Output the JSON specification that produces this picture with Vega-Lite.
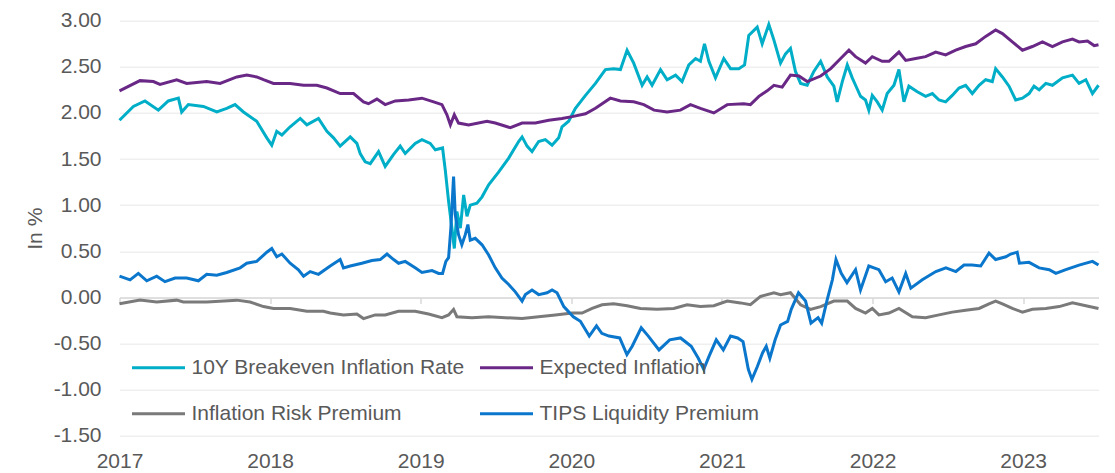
{
 "$schema": "https://vega.github.io/schema/vega-lite/v6.json",
 "width": 979, "height": 415,
 "autosize": {"type": "none"},
 "padding": {"left": 119.5, "top": 20.7, "right": 16.5, "bottom": 37.3},
 "background": "white",
 "config": {"font": "Liberation Sans", "view": {"stroke": null}},
 "data": {"values": [
  {"s":"10Y Breakeven Inflation Rate","year":2017.000,"v":1.92},{"s":"10Y Breakeven Inflation Rate","year":2017.092,"v":2.07},{"s":"10Y Breakeven Inflation Rate","year":2017.169,"v":2.13},{"s":"10Y Breakeven Inflation Rate","year":2017.258,"v":2.03},{"s":"10Y Breakeven Inflation Rate","year":2017.324,"v":2.13},{"s":"10Y Breakeven Inflation Rate","year":2017.391,"v":2.16},{"s":"10Y Breakeven Inflation Rate","year":2017.413,"v":2.01},{"s":"10Y Breakeven Inflation Rate","year":2017.457,"v":2.09},{"s":"10Y Breakeven Inflation Rate","year":2017.557,"v":2.07},{"s":"10Y Breakeven Inflation Rate","year":2017.646,"v":2.01},{"s":"10Y Breakeven Inflation Rate","year":2017.712,"v":2.05},{"s":"10Y Breakeven Inflation Rate","year":2017.767,"v":2.09},{"s":"10Y Breakeven Inflation Rate","year":2017.823,"v":2.01},{"s":"10Y Breakeven Inflation Rate","year":2017.911,"v":1.91},{"s":"10Y Breakeven Inflation Rate","year":2017.978,"v":1.73},{"s":"10Y Breakeven Inflation Rate","year":2018.011,"v":1.65},{"s":"10Y Breakeven Inflation Rate","year":2018.044,"v":1.80},{"s":"10Y Breakeven Inflation Rate","year":2018.078,"v":1.76},{"s":"10Y Breakeven Inflation Rate","year":2018.133,"v":1.85},{"s":"10Y Breakeven Inflation Rate","year":2018.200,"v":1.94},{"s":"10Y Breakeven Inflation Rate","year":2018.244,"v":1.87},{"s":"10Y Breakeven Inflation Rate","year":2018.321,"v":1.94},{"s":"10Y Breakeven Inflation Rate","year":2018.377,"v":1.80},{"s":"10Y Breakeven Inflation Rate","year":2018.421,"v":1.73},{"s":"10Y Breakeven Inflation Rate","year":2018.465,"v":1.64},{"s":"10Y Breakeven Inflation Rate","year":2018.532,"v":1.74},{"s":"10Y Breakeven Inflation Rate","year":2018.576,"v":1.67},{"s":"10Y Breakeven Inflation Rate","year":2018.598,"v":1.56},{"s":"10Y Breakeven Inflation Rate","year":2018.631,"v":1.47},{"s":"10Y Breakeven Inflation Rate","year":2018.665,"v":1.45},{"s":"10Y Breakeven Inflation Rate","year":2018.720,"v":1.58},{"s":"10Y Breakeven Inflation Rate","year":2018.764,"v":1.42},{"s":"10Y Breakeven Inflation Rate","year":2018.820,"v":1.55},{"s":"10Y Breakeven Inflation Rate","year":2018.864,"v":1.64},{"s":"10Y Breakeven Inflation Rate","year":2018.897,"v":1.56},{"s":"10Y Breakeven Inflation Rate","year":2018.963,"v":1.67},{"s":"10Y Breakeven Inflation Rate","year":2019.008,"v":1.71},{"s":"10Y Breakeven Inflation Rate","year":2019.063,"v":1.67},{"s":"10Y Breakeven Inflation Rate","year":2019.097,"v":1.60},{"s":"10Y Breakeven Inflation Rate","year":2019.145,"v":1.62},{"s":"10Y Breakeven Inflation Rate","year":2019.163,"v":1.38},{"s":"10Y Breakeven Inflation Rate","year":2019.185,"v":1.04},{"s":"10Y Breakeven Inflation Rate","year":2019.207,"v":0.75},{"s":"10Y Breakeven Inflation Rate","year":2019.223,"v":0.53},{"s":"10Y Breakeven Inflation Rate","year":2019.240,"v":0.93},{"s":"10Y Breakeven Inflation Rate","year":2019.263,"v":0.75},{"s":"10Y Breakeven Inflation Rate","year":2019.285,"v":1.11},{"s":"10Y Breakeven Inflation Rate","year":2019.307,"v":0.88},{"s":"10Y Breakeven Inflation Rate","year":2019.329,"v":1.00},{"s":"10Y Breakeven Inflation Rate","year":2019.373,"v":1.02},{"s":"10Y Breakeven Inflation Rate","year":2019.407,"v":1.09},{"s":"10Y Breakeven Inflation Rate","year":2019.451,"v":1.22},{"s":"10Y Breakeven Inflation Rate","year":2019.518,"v":1.36},{"s":"10Y Breakeven Inflation Rate","year":2019.584,"v":1.51},{"s":"10Y Breakeven Inflation Rate","year":2019.650,"v":1.69},{"s":"10Y Breakeven Inflation Rate","year":2019.673,"v":1.74},{"s":"10Y Breakeven Inflation Rate","year":2019.706,"v":1.64},{"s":"10Y Breakeven Inflation Rate","year":2019.739,"v":1.58},{"s":"10Y Breakeven Inflation Rate","year":2019.783,"v":1.69},{"s":"10Y Breakeven Inflation Rate","year":2019.827,"v":1.71},{"s":"10Y Breakeven Inflation Rate","year":2019.872,"v":1.65},{"s":"10Y Breakeven Inflation Rate","year":2019.916,"v":1.73},{"s":"10Y Breakeven Inflation Rate","year":2019.938,"v":1.85},{"s":"10Y Breakeven Inflation Rate","year":2019.982,"v":1.91},{"s":"10Y Breakeven Inflation Rate","year":2020.027,"v":2.05},{"s":"10Y Breakeven Inflation Rate","year":2020.094,"v":2.19},{"s":"10Y Breakeven Inflation Rate","year":2020.160,"v":2.32},{"s":"10Y Breakeven Inflation Rate","year":2020.226,"v":2.47},{"s":"10Y Breakeven Inflation Rate","year":2020.281,"v":2.48},{"s":"10Y Breakeven Inflation Rate","year":2020.326,"v":2.47},{"s":"10Y Breakeven Inflation Rate","year":2020.370,"v":2.68},{"s":"10Y Breakeven Inflation Rate","year":2020.414,"v":2.54},{"s":"10Y Breakeven Inflation Rate","year":2020.470,"v":2.30},{"s":"10Y Breakeven Inflation Rate","year":2020.503,"v":2.39},{"s":"10Y Breakeven Inflation Rate","year":2020.536,"v":2.30},{"s":"10Y Breakeven Inflation Rate","year":2020.592,"v":2.47},{"s":"10Y Breakeven Inflation Rate","year":2020.636,"v":2.36},{"s":"10Y Breakeven Inflation Rate","year":2020.692,"v":2.41},{"s":"10Y Breakeven Inflation Rate","year":2020.735,"v":2.34},{"s":"10Y Breakeven Inflation Rate","year":2020.780,"v":2.52},{"s":"10Y Breakeven Inflation Rate","year":2020.825,"v":2.59},{"s":"10Y Breakeven Inflation Rate","year":2020.857,"v":2.56},{"s":"10Y Breakeven Inflation Rate","year":2020.884,"v":2.75},{"s":"10Y Breakeven Inflation Rate","year":2020.913,"v":2.56},{"s":"10Y Breakeven Inflation Rate","year":2020.957,"v":2.38},{"s":"10Y Breakeven Inflation Rate","year":2021.012,"v":2.59},{"s":"10Y Breakeven Inflation Rate","year":2021.057,"v":2.48},{"s":"10Y Breakeven Inflation Rate","year":2021.112,"v":2.48},{"s":"10Y Breakeven Inflation Rate","year":2021.150,"v":2.52},{"s":"10Y Breakeven Inflation Rate","year":2021.178,"v":2.84},{"s":"10Y Breakeven Inflation Rate","year":2021.234,"v":2.93},{"s":"10Y Breakeven Inflation Rate","year":2021.267,"v":2.75},{"s":"10Y Breakeven Inflation Rate","year":2021.311,"v":2.96},{"s":"10Y Breakeven Inflation Rate","year":2021.345,"v":2.79},{"s":"10Y Breakeven Inflation Rate","year":2021.389,"v":2.54},{"s":"10Y Breakeven Inflation Rate","year":2021.422,"v":2.64},{"s":"10Y Breakeven Inflation Rate","year":2021.455,"v":2.70},{"s":"10Y Breakeven Inflation Rate","year":2021.488,"v":2.45},{"s":"10Y Breakeven Inflation Rate","year":2021.522,"v":2.32},{"s":"10Y Breakeven Inflation Rate","year":2021.566,"v":2.30},{"s":"10Y Breakeven Inflation Rate","year":2021.610,"v":2.45},{"s":"10Y Breakeven Inflation Rate","year":2021.655,"v":2.56},{"s":"10Y Breakeven Inflation Rate","year":2021.699,"v":2.39},{"s":"10Y Breakeven Inflation Rate","year":2021.743,"v":2.29},{"s":"10Y Breakeven Inflation Rate","year":2021.765,"v":2.12},{"s":"10Y Breakeven Inflation Rate","year":2021.799,"v":2.34},{"s":"10Y Breakeven Inflation Rate","year":2021.832,"v":2.52},{"s":"10Y Breakeven Inflation Rate","year":2021.865,"v":2.38},{"s":"10Y Breakeven Inflation Rate","year":2021.887,"v":2.30},{"s":"10Y Breakeven Inflation Rate","year":2021.920,"v":2.18},{"s":"10Y Breakeven Inflation Rate","year":2021.953,"v":2.14},{"s":"10Y Breakeven Inflation Rate","year":2021.975,"v":2.03},{"s":"10Y Breakeven Inflation Rate","year":2021.998,"v":2.19},{"s":"10Y Breakeven Inflation Rate","year":2022.031,"v":2.12},{"s":"10Y Breakeven Inflation Rate","year":2022.064,"v":2.03},{"s":"10Y Breakeven Inflation Rate","year":2022.097,"v":2.21},{"s":"10Y Breakeven Inflation Rate","year":2022.142,"v":2.30},{"s":"10Y Breakeven Inflation Rate","year":2022.175,"v":2.47},{"s":"10Y Breakeven Inflation Rate","year":2022.208,"v":2.12},{"s":"10Y Breakeven Inflation Rate","year":2022.241,"v":2.29},{"s":"10Y Breakeven Inflation Rate","year":2022.297,"v":2.23},{"s":"10Y Breakeven Inflation Rate","year":2022.352,"v":2.18},{"s":"10Y Breakeven Inflation Rate","year":2022.397,"v":2.21},{"s":"10Y Breakeven Inflation Rate","year":2022.441,"v":2.14},{"s":"10Y Breakeven Inflation Rate","year":2022.485,"v":2.12},{"s":"10Y Breakeven Inflation Rate","year":2022.529,"v":2.19},{"s":"10Y Breakeven Inflation Rate","year":2022.574,"v":2.27},{"s":"10Y Breakeven Inflation Rate","year":2022.618,"v":2.30},{"s":"10Y Breakeven Inflation Rate","year":2022.662,"v":2.21},{"s":"10Y Breakeven Inflation Rate","year":2022.707,"v":2.30},{"s":"10Y Breakeven Inflation Rate","year":2022.751,"v":2.36},{"s":"10Y Breakeven Inflation Rate","year":2022.795,"v":2.34},{"s":"10Y Breakeven Inflation Rate","year":2022.817,"v":2.48},{"s":"10Y Breakeven Inflation Rate","year":2022.862,"v":2.39},{"s":"10Y Breakeven Inflation Rate","year":2022.906,"v":2.29},{"s":"10Y Breakeven Inflation Rate","year":2022.950,"v":2.14},{"s":"10Y Breakeven Inflation Rate","year":2022.995,"v":2.16},{"s":"10Y Breakeven Inflation Rate","year":2023.039,"v":2.21},{"s":"10Y Breakeven Inflation Rate","year":2023.072,"v":2.29},{"s":"10Y Breakeven Inflation Rate","year":2023.106,"v":2.25},{"s":"10Y Breakeven Inflation Rate","year":2023.150,"v":2.32},{"s":"10Y Breakeven Inflation Rate","year":2023.194,"v":2.30},{"s":"10Y Breakeven Inflation Rate","year":2023.261,"v":2.38},{"s":"10Y Breakeven Inflation Rate","year":2023.327,"v":2.41},{"s":"10Y Breakeven Inflation Rate","year":2023.371,"v":2.32},{"s":"10Y Breakeven Inflation Rate","year":2023.416,"v":2.36},{"s":"10Y Breakeven Inflation Rate","year":2023.460,"v":2.21},{"s":"10Y Breakeven Inflation Rate","year":2023.500,"v":2.30},
  {"s":"Expected Inflation","year":2017.000,"v":2.24},{"s":"Expected Inflation","year":2017.136,"v":2.35},{"s":"Expected Inflation","year":2017.225,"v":2.34},{"s":"Expected Inflation","year":2017.269,"v":2.31},{"s":"Expected Inflation","year":2017.380,"v":2.36},{"s":"Expected Inflation","year":2017.446,"v":2.32},{"s":"Expected Inflation","year":2017.579,"v":2.34},{"s":"Expected Inflation","year":2017.668,"v":2.32},{"s":"Expected Inflation","year":2017.779,"v":2.39},{"s":"Expected Inflation","year":2017.845,"v":2.41},{"s":"Expected Inflation","year":2017.911,"v":2.39},{"s":"Expected Inflation","year":2017.956,"v":2.36},{"s":"Expected Inflation","year":2018.022,"v":2.32},{"s":"Expected Inflation","year":2018.133,"v":2.32},{"s":"Expected Inflation","year":2018.222,"v":2.30},{"s":"Expected Inflation","year":2018.310,"v":2.30},{"s":"Expected Inflation","year":2018.377,"v":2.27},{"s":"Expected Inflation","year":2018.465,"v":2.21},{"s":"Expected Inflation","year":2018.554,"v":2.21},{"s":"Expected Inflation","year":2018.620,"v":2.12},{"s":"Expected Inflation","year":2018.653,"v":2.10},{"s":"Expected Inflation","year":2018.709,"v":2.15},{"s":"Expected Inflation","year":2018.764,"v":2.09},{"s":"Expected Inflation","year":2018.831,"v":2.13},{"s":"Expected Inflation","year":2018.920,"v":2.14},{"s":"Expected Inflation","year":2019.008,"v":2.16},{"s":"Expected Inflation","year":2019.086,"v":2.12},{"s":"Expected Inflation","year":2019.141,"v":2.09},{"s":"Expected Inflation","year":2019.174,"v":1.98},{"s":"Expected Inflation","year":2019.197,"v":1.87},{"s":"Expected Inflation","year":2019.223,"v":1.98},{"s":"Expected Inflation","year":2019.251,"v":1.89},{"s":"Expected Inflation","year":2019.318,"v":1.87},{"s":"Expected Inflation","year":2019.440,"v":1.91},{"s":"Expected Inflation","year":2019.495,"v":1.89},{"s":"Expected Inflation","year":2019.595,"v":1.84},{"s":"Expected Inflation","year":2019.673,"v":1.89},{"s":"Expected Inflation","year":2019.761,"v":1.89},{"s":"Expected Inflation","year":2019.850,"v":1.92},{"s":"Expected Inflation","year":2019.938,"v":1.94},{"s":"Expected Inflation","year":2020.005,"v":1.96},{"s":"Expected Inflation","year":2020.094,"v":1.99},{"s":"Expected Inflation","year":2020.160,"v":2.05},{"s":"Expected Inflation","year":2020.259,"v":2.16},{"s":"Expected Inflation","year":2020.326,"v":2.13},{"s":"Expected Inflation","year":2020.414,"v":2.12},{"s":"Expected Inflation","year":2020.481,"v":2.09},{"s":"Expected Inflation","year":2020.549,"v":2.03},{"s":"Expected Inflation","year":2020.636,"v":2.01},{"s":"Expected Inflation","year":2020.724,"v":2.03},{"s":"Expected Inflation","year":2020.791,"v":2.09},{"s":"Expected Inflation","year":2020.857,"v":2.05},{"s":"Expected Inflation","year":2020.946,"v":2.00},{"s":"Expected Inflation","year":2021.035,"v":2.09},{"s":"Expected Inflation","year":2021.145,"v":2.10},{"s":"Expected Inflation","year":2021.189,"v":2.09},{"s":"Expected Inflation","year":2021.245,"v":2.18},{"s":"Expected Inflation","year":2021.300,"v":2.24},{"s":"Expected Inflation","year":2021.345,"v":2.30},{"s":"Expected Inflation","year":2021.400,"v":2.28},{"s":"Expected Inflation","year":2021.455,"v":2.41},{"s":"Expected Inflation","year":2021.511,"v":2.40},{"s":"Expected Inflation","year":2021.566,"v":2.34},{"s":"Expected Inflation","year":2021.655,"v":2.40},{"s":"Expected Inflation","year":2021.722,"v":2.48},{"s":"Expected Inflation","year":2021.788,"v":2.59},{"s":"Expected Inflation","year":2021.843,"v":2.68},{"s":"Expected Inflation","year":2021.887,"v":2.61},{"s":"Expected Inflation","year":2021.953,"v":2.54},{"s":"Expected Inflation","year":2021.998,"v":2.61},{"s":"Expected Inflation","year":2022.064,"v":2.56},{"s":"Expected Inflation","year":2022.109,"v":2.56},{"s":"Expected Inflation","year":2022.175,"v":2.66},{"s":"Expected Inflation","year":2022.220,"v":2.57},{"s":"Expected Inflation","year":2022.286,"v":2.59},{"s":"Expected Inflation","year":2022.352,"v":2.61},{"s":"Expected Inflation","year":2022.419,"v":2.66},{"s":"Expected Inflation","year":2022.485,"v":2.63},{"s":"Expected Inflation","year":2022.552,"v":2.68},{"s":"Expected Inflation","year":2022.618,"v":2.72},{"s":"Expected Inflation","year":2022.685,"v":2.75},{"s":"Expected Inflation","year":2022.751,"v":2.83},{"s":"Expected Inflation","year":2022.817,"v":2.90},{"s":"Expected Inflation","year":2022.862,"v":2.86},{"s":"Expected Inflation","year":2022.928,"v":2.77},{"s":"Expected Inflation","year":2022.995,"v":2.68},{"s":"Expected Inflation","year":2023.061,"v":2.72},{"s":"Expected Inflation","year":2023.128,"v":2.77},{"s":"Expected Inflation","year":2023.194,"v":2.72},{"s":"Expected Inflation","year":2023.261,"v":2.77},{"s":"Expected Inflation","year":2023.327,"v":2.80},{"s":"Expected Inflation","year":2023.371,"v":2.77},{"s":"Expected Inflation","year":2023.427,"v":2.78},{"s":"Expected Inflation","year":2023.471,"v":2.73},{"s":"Expected Inflation","year":2023.500,"v":2.74},
  {"s":"Inflation Risk Premium","year":2017.000,"v":-0.07},{"s":"Inflation Risk Premium","year":2017.136,"v":-0.03},{"s":"Inflation Risk Premium","year":2017.247,"v":-0.05},{"s":"Inflation Risk Premium","year":2017.380,"v":-0.03},{"s":"Inflation Risk Premium","year":2017.424,"v":-0.05},{"s":"Inflation Risk Premium","year":2017.579,"v":-0.05},{"s":"Inflation Risk Premium","year":2017.779,"v":-0.03},{"s":"Inflation Risk Premium","year":2017.867,"v":-0.05},{"s":"Inflation Risk Premium","year":2017.956,"v":-0.10},{"s":"Inflation Risk Premium","year":2018.022,"v":-0.12},{"s":"Inflation Risk Premium","year":2018.133,"v":-0.12},{"s":"Inflation Risk Premium","year":2018.244,"v":-0.15},{"s":"Inflation Risk Premium","year":2018.354,"v":-0.15},{"s":"Inflation Risk Premium","year":2018.399,"v":-0.17},{"s":"Inflation Risk Premium","year":2018.487,"v":-0.19},{"s":"Inflation Risk Premium","year":2018.576,"v":-0.18},{"s":"Inflation Risk Premium","year":2018.620,"v":-0.23},{"s":"Inflation Risk Premium","year":2018.698,"v":-0.19},{"s":"Inflation Risk Premium","year":2018.764,"v":-0.19},{"s":"Inflation Risk Premium","year":2018.852,"v":-0.15},{"s":"Inflation Risk Premium","year":2018.963,"v":-0.15},{"s":"Inflation Risk Premium","year":2019.052,"v":-0.18},{"s":"Inflation Risk Premium","year":2019.141,"v":-0.22},{"s":"Inflation Risk Premium","year":2019.185,"v":-0.19},{"s":"Inflation Risk Premium","year":2019.218,"v":-0.13},{"s":"Inflation Risk Premium","year":2019.240,"v":-0.21},{"s":"Inflation Risk Premium","year":2019.340,"v":-0.22},{"s":"Inflation Risk Premium","year":2019.451,"v":-0.21},{"s":"Inflation Risk Premium","year":2019.562,"v":-0.22},{"s":"Inflation Risk Premium","year":2019.673,"v":-0.23},{"s":"Inflation Risk Premium","year":2019.783,"v":-0.21},{"s":"Inflation Risk Premium","year":2019.894,"v":-0.19},{"s":"Inflation Risk Premium","year":2020.005,"v":-0.17},{"s":"Inflation Risk Premium","year":2020.071,"v":-0.17},{"s":"Inflation Risk Premium","year":2020.138,"v":-0.12},{"s":"Inflation Risk Premium","year":2020.204,"v":-0.08},{"s":"Inflation Risk Premium","year":2020.281,"v":-0.07},{"s":"Inflation Risk Premium","year":2020.370,"v":-0.09},{"s":"Inflation Risk Premium","year":2020.459,"v":-0.12},{"s":"Inflation Risk Premium","year":2020.569,"v":-0.13},{"s":"Inflation Risk Premium","year":2020.680,"v":-0.12},{"s":"Inflation Risk Premium","year":2020.768,"v":-0.08},{"s":"Inflation Risk Premium","year":2020.857,"v":-0.10},{"s":"Inflation Risk Premium","year":2020.946,"v":-0.09},{"s":"Inflation Risk Premium","year":2021.035,"v":-0.04},{"s":"Inflation Risk Premium","year":2021.123,"v":-0.06},{"s":"Inflation Risk Premium","year":2021.189,"v":-0.08},{"s":"Inflation Risk Premium","year":2021.256,"v":0.01},{"s":"Inflation Risk Premium","year":2021.345,"v":0.05},{"s":"Inflation Risk Premium","year":2021.389,"v":0.03},{"s":"Inflation Risk Premium","year":2021.455,"v":0.05},{"s":"Inflation Risk Premium","year":2021.522,"v":-0.08},{"s":"Inflation Risk Premium","year":2021.588,"v":-0.13},{"s":"Inflation Risk Premium","year":2021.655,"v":-0.10},{"s":"Inflation Risk Premium","year":2021.743,"v":-0.04},{"s":"Inflation Risk Premium","year":2021.832,"v":-0.04},{"s":"Inflation Risk Premium","year":2021.887,"v":-0.12},{"s":"Inflation Risk Premium","year":2021.953,"v":-0.17},{"s":"Inflation Risk Premium","year":2021.998,"v":-0.12},{"s":"Inflation Risk Premium","year":2022.042,"v":-0.19},{"s":"Inflation Risk Premium","year":2022.109,"v":-0.17},{"s":"Inflation Risk Premium","year":2022.175,"v":-0.12},{"s":"Inflation Risk Premium","year":2022.264,"v":-0.21},{"s":"Inflation Risk Premium","year":2022.352,"v":-0.22},{"s":"Inflation Risk Premium","year":2022.441,"v":-0.19},{"s":"Inflation Risk Premium","year":2022.529,"v":-0.16},{"s":"Inflation Risk Premium","year":2022.618,"v":-0.14},{"s":"Inflation Risk Premium","year":2022.707,"v":-0.12},{"s":"Inflation Risk Premium","year":2022.773,"v":-0.07},{"s":"Inflation Risk Premium","year":2022.817,"v":-0.04},{"s":"Inflation Risk Premium","year":2022.862,"v":-0.07},{"s":"Inflation Risk Premium","year":2022.928,"v":-0.12},{"s":"Inflation Risk Premium","year":2022.995,"v":-0.16},{"s":"Inflation Risk Premium","year":2023.061,"v":-0.13},{"s":"Inflation Risk Premium","year":2023.150,"v":-0.12},{"s":"Inflation Risk Premium","year":2023.239,"v":-0.10},{"s":"Inflation Risk Premium","year":2023.327,"v":-0.06},{"s":"Inflation Risk Premium","year":2023.416,"v":-0.09},{"s":"Inflation Risk Premium","year":2023.500,"v":-0.12},
  {"s":"TIPS Liquidity Premium","year":2017.000,"v":0.23},{"s":"TIPS Liquidity Premium","year":2017.070,"v":0.19},{"s":"TIPS Liquidity Premium","year":2017.125,"v":0.26},{"s":"TIPS Liquidity Premium","year":2017.181,"v":0.18},{"s":"TIPS Liquidity Premium","year":2017.247,"v":0.23},{"s":"TIPS Liquidity Premium","year":2017.302,"v":0.17},{"s":"TIPS Liquidity Premium","year":2017.369,"v":0.21},{"s":"TIPS Liquidity Premium","year":2017.446,"v":0.21},{"s":"TIPS Liquidity Premium","year":2017.524,"v":0.18},{"s":"TIPS Liquidity Premium","year":2017.579,"v":0.25},{"s":"TIPS Liquidity Premium","year":2017.646,"v":0.24},{"s":"TIPS Liquidity Premium","year":2017.712,"v":0.27},{"s":"TIPS Liquidity Premium","year":2017.801,"v":0.32},{"s":"TIPS Liquidity Premium","year":2017.845,"v":0.37},{"s":"TIPS Liquidity Premium","year":2017.911,"v":0.39},{"s":"TIPS Liquidity Premium","year":2017.978,"v":0.49},{"s":"TIPS Liquidity Premium","year":2018.011,"v":0.53},{"s":"TIPS Liquidity Premium","year":2018.044,"v":0.44},{"s":"TIPS Liquidity Premium","year":2018.078,"v":0.47},{"s":"TIPS Liquidity Premium","year":2018.133,"v":0.37},{"s":"TIPS Liquidity Premium","year":2018.188,"v":0.30},{"s":"TIPS Liquidity Premium","year":2018.222,"v":0.23},{"s":"TIPS Liquidity Premium","year":2018.266,"v":0.28},{"s":"TIPS Liquidity Premium","year":2018.321,"v":0.25},{"s":"TIPS Liquidity Premium","year":2018.399,"v":0.34},{"s":"TIPS Liquidity Premium","year":2018.465,"v":0.41},{"s":"TIPS Liquidity Premium","year":2018.487,"v":0.32},{"s":"TIPS Liquidity Premium","year":2018.532,"v":0.34},{"s":"TIPS Liquidity Premium","year":2018.609,"v":0.37},{"s":"TIPS Liquidity Premium","year":2018.676,"v":0.40},{"s":"TIPS Liquidity Premium","year":2018.731,"v":0.41},{"s":"TIPS Liquidity Premium","year":2018.776,"v":0.47},{"s":"TIPS Liquidity Premium","year":2018.820,"v":0.41},{"s":"TIPS Liquidity Premium","year":2018.853,"v":0.37},{"s":"TIPS Liquidity Premium","year":2018.897,"v":0.39},{"s":"TIPS Liquidity Premium","year":2018.963,"v":0.32},{"s":"TIPS Liquidity Premium","year":2019.008,"v":0.27},{"s":"TIPS Liquidity Premium","year":2019.075,"v":0.29},{"s":"TIPS Liquidity Premium","year":2019.119,"v":0.26},{"s":"TIPS Liquidity Premium","year":2019.145,"v":0.26},{"s":"TIPS Liquidity Premium","year":2019.167,"v":0.39},{"s":"TIPS Liquidity Premium","year":2019.185,"v":0.43},{"s":"TIPS Liquidity Premium","year":2019.200,"v":0.75},{"s":"TIPS Liquidity Premium","year":2019.218,"v":1.31},{"s":"TIPS Liquidity Premium","year":2019.229,"v":0.90},{"s":"TIPS Liquidity Premium","year":2019.251,"v":0.68},{"s":"TIPS Liquidity Premium","year":2019.273,"v":0.57},{"s":"TIPS Liquidity Premium","year":2019.296,"v":0.68},{"s":"TIPS Liquidity Premium","year":2019.313,"v":0.79},{"s":"TIPS Liquidity Premium","year":2019.329,"v":0.62},{"s":"TIPS Liquidity Premium","year":2019.362,"v":0.64},{"s":"TIPS Liquidity Premium","year":2019.407,"v":0.57},{"s":"TIPS Liquidity Premium","year":2019.451,"v":0.46},{"s":"TIPS Liquidity Premium","year":2019.495,"v":0.32},{"s":"TIPS Liquidity Premium","year":2019.539,"v":0.21},{"s":"TIPS Liquidity Premium","year":2019.584,"v":0.14},{"s":"TIPS Liquidity Premium","year":2019.628,"v":0.06},{"s":"TIPS Liquidity Premium","year":2019.673,"v":-0.04},{"s":"TIPS Liquidity Premium","year":2019.695,"v":0.03},{"s":"TIPS Liquidity Premium","year":2019.739,"v":0.08},{"s":"TIPS Liquidity Premium","year":2019.783,"v":0.03},{"s":"TIPS Liquidity Premium","year":2019.839,"v":0.05},{"s":"TIPS Liquidity Premium","year":2019.872,"v":0.08},{"s":"TIPS Liquidity Premium","year":2019.905,"v":0.05},{"s":"TIPS Liquidity Premium","year":2019.950,"v":-0.10},{"s":"TIPS Liquidity Premium","year":2020.013,"v":-0.21},{"s":"TIPS Liquidity Premium","year":2020.060,"v":-0.26},{"s":"TIPS Liquidity Premium","year":2020.119,"v":-0.42},{"s":"TIPS Liquidity Premium","year":2020.167,"v":-0.31},{"s":"TIPS Liquidity Premium","year":2020.202,"v":-0.39},{"s":"TIPS Liquidity Premium","year":2020.250,"v":-0.42},{"s":"TIPS Liquidity Premium","year":2020.321,"v":-0.44},{"s":"TIPS Liquidity Premium","year":2020.369,"v":-0.62},{"s":"TIPS Liquidity Premium","year":2020.404,"v":-0.53},{"s":"TIPS Liquidity Premium","year":2020.464,"v":-0.33},{"s":"TIPS Liquidity Premium","year":2020.511,"v":-0.42},{"s":"TIPS Liquidity Premium","year":2020.582,"v":-0.57},{"s":"TIPS Liquidity Premium","year":2020.653,"v":-0.46},{"s":"TIPS Liquidity Premium","year":2020.725,"v":-0.44},{"s":"TIPS Liquidity Premium","year":2020.796,"v":-0.53},{"s":"TIPS Liquidity Premium","year":2020.843,"v":-0.66},{"s":"TIPS Liquidity Premium","year":2020.879,"v":-0.78},{"s":"TIPS Liquidity Premium","year":2020.914,"v":-0.64},{"s":"TIPS Liquidity Premium","year":2020.962,"v":-0.46},{"s":"TIPS Liquidity Premium","year":2021.009,"v":-0.57},{"s":"TIPS Liquidity Premium","year":2021.057,"v":-0.42},{"s":"TIPS Liquidity Premium","year":2021.104,"v":-0.44},{"s":"TIPS Liquidity Premium","year":2021.140,"v":-0.48},{"s":"TIPS Liquidity Premium","year":2021.175,"v":-0.78},{"s":"TIPS Liquidity Premium","year":2021.199,"v":-0.89},{"s":"TIPS Liquidity Premium","year":2021.235,"v":-0.75},{"s":"TIPS Liquidity Premium","year":2021.270,"v":-0.60},{"s":"TIPS Liquidity Premium","year":2021.294,"v":-0.53},{"s":"TIPS Liquidity Premium","year":2021.318,"v":-0.66},{"s":"TIPS Liquidity Premium","year":2021.353,"v":-0.46},{"s":"TIPS Liquidity Premium","year":2021.389,"v":-0.30},{"s":"TIPS Liquidity Premium","year":2021.436,"v":-0.26},{"s":"TIPS Liquidity Premium","year":2021.460,"v":-0.13},{"s":"TIPS Liquidity Premium","year":2021.508,"v":0.05},{"s":"TIPS Liquidity Premium","year":2021.555,"v":-0.04},{"s":"TIPS Liquidity Premium","year":2021.591,"v":-0.28},{"s":"TIPS Liquidity Premium","year":2021.638,"v":-0.22},{"s":"TIPS Liquidity Premium","year":2021.662,"v":-0.28},{"s":"TIPS Liquidity Premium","year":2021.698,"v":-0.03},{"s":"TIPS Liquidity Premium","year":2021.733,"v":0.19},{"s":"TIPS Liquidity Premium","year":2021.757,"v":0.41},{"s":"TIPS Liquidity Premium","year":2021.792,"v":0.26},{"s":"TIPS Liquidity Premium","year":2021.830,"v":0.16},{"s":"TIPS Liquidity Premium","year":2021.887,"v":0.30},{"s":"TIPS Liquidity Premium","year":2021.920,"v":0.08},{"s":"TIPS Liquidity Premium","year":2021.975,"v":0.34},{"s":"TIPS Liquidity Premium","year":2022.042,"v":0.30},{"s":"TIPS Liquidity Premium","year":2022.087,"v":0.17},{"s":"TIPS Liquidity Premium","year":2022.130,"v":0.21},{"s":"TIPS Liquidity Premium","year":2022.175,"v":0.06},{"s":"TIPS Liquidity Premium","year":2022.220,"v":0.26},{"s":"TIPS Liquidity Premium","year":2022.254,"v":0.10},{"s":"TIPS Liquidity Premium","year":2022.330,"v":0.19},{"s":"TIPS Liquidity Premium","year":2022.420,"v":0.28},{"s":"TIPS Liquidity Premium","year":2022.487,"v":0.32},{"s":"TIPS Liquidity Premium","year":2022.553,"v":0.28},{"s":"TIPS Liquidity Premium","year":2022.607,"v":0.35},{"s":"TIPS Liquidity Premium","year":2022.660,"v":0.35},{"s":"TIPS Liquidity Premium","year":2022.718,"v":0.34},{"s":"TIPS Liquidity Premium","year":2022.773,"v":0.48},{"s":"TIPS Liquidity Premium","year":2022.817,"v":0.41},{"s":"TIPS Liquidity Premium","year":2022.885,"v":0.44},{"s":"TIPS Liquidity Premium","year":2022.917,"v":0.47},{"s":"TIPS Liquidity Premium","year":2022.960,"v":0.49},{"s":"TIPS Liquidity Premium","year":2022.975,"v":0.37},{"s":"TIPS Liquidity Premium","year":2023.039,"v":0.38},{"s":"TIPS Liquidity Premium","year":2023.106,"v":0.32},{"s":"TIPS Liquidity Premium","year":2023.173,"v":0.30},{"s":"TIPS Liquidity Premium","year":2023.217,"v":0.26},{"s":"TIPS Liquidity Premium","year":2023.283,"v":0.30},{"s":"TIPS Liquidity Premium","year":2023.371,"v":0.35},{"s":"TIPS Liquidity Premium","year":2023.460,"v":0.39},{"s":"TIPS Liquidity Premium","year":2023.500,"v":0.35}
 ]},
 "mark": {"type": "line", "strokeWidth": 3},
 "encoding": {
  "x": {"field": "year", "type": "quantitative", "scale": {"domain": [2017, 2023.5], "nice": false, "zero": false},
   "axis": {"title": null, "values": [2017, 2018, 2019, 2020, 2021, 2022, 2023], "format": "d", "grid": false, "offset": -138.3,
    "domainColor": "#d9d9d9", "domainWidth": 1.5, "tickColor": "#d9d9d9", "tickWidth": 1.5, "tickSize": 6,
    "labelPadding": 158, "labelBaseline": "middle", "labelFontSize": 21, "labelColor": "#595959", "labelFlush": false, "labelFont": "Liberation Sans"}},
  "y": {"field": "v", "type": "quantitative", "scale": {"domain": [-1.5, 3], "nice": false, "zero": false},
   "axis": {"title": "In %", "values": [-1.5, -1, -0.5, 0, 0.5, 1, 1.5, 2, 2.5, 3],
    "labelExpr": "datum.value < 0 ? '-' + format(-datum.value, '.2f') : format(datum.value, '.2f')",
    "grid": true, "gridColor": "#efefef", "gridWidth": 1.5,
    "domain": false, "ticks": false, "labelPadding": 18.5, "labelFontSize": 21, "labelColor": "#595959", "labelFont": "Liberation Sans",
    "titleFontSize": 21, "titleFontWeight": "normal", "titleColor": "#595959", "titleFont": "Liberation Sans", "titlePadding": 8}},
  "color": {"field": "s", "type": "nominal",
   "scale": {"domain": ["10Y Breakeven Inflation Rate", "Expected Inflation", "Inflation Risk Premium", "TIPS Liquidity Premium"], "range": ["#00AEC7", "#6A2886", "#7A7A7A", "#0B77CC"]},
   "legend": {"title": null, "orient": "none", "direction": "horizontal", "legendX": 11, "legendY": 319, "columns": 2, "symbolType": "stroke", "symbolSize": 2809, "symbolStrokeWidth": 3,
    "labelFontSize": 21, "labelColor": "#595959", "labelFont": "Liberation Sans", "labelOffset": 5, "columnPadding": 8, "rowPadding": 8, "padding": 0, "labelLimit": 500}}
 }
}
